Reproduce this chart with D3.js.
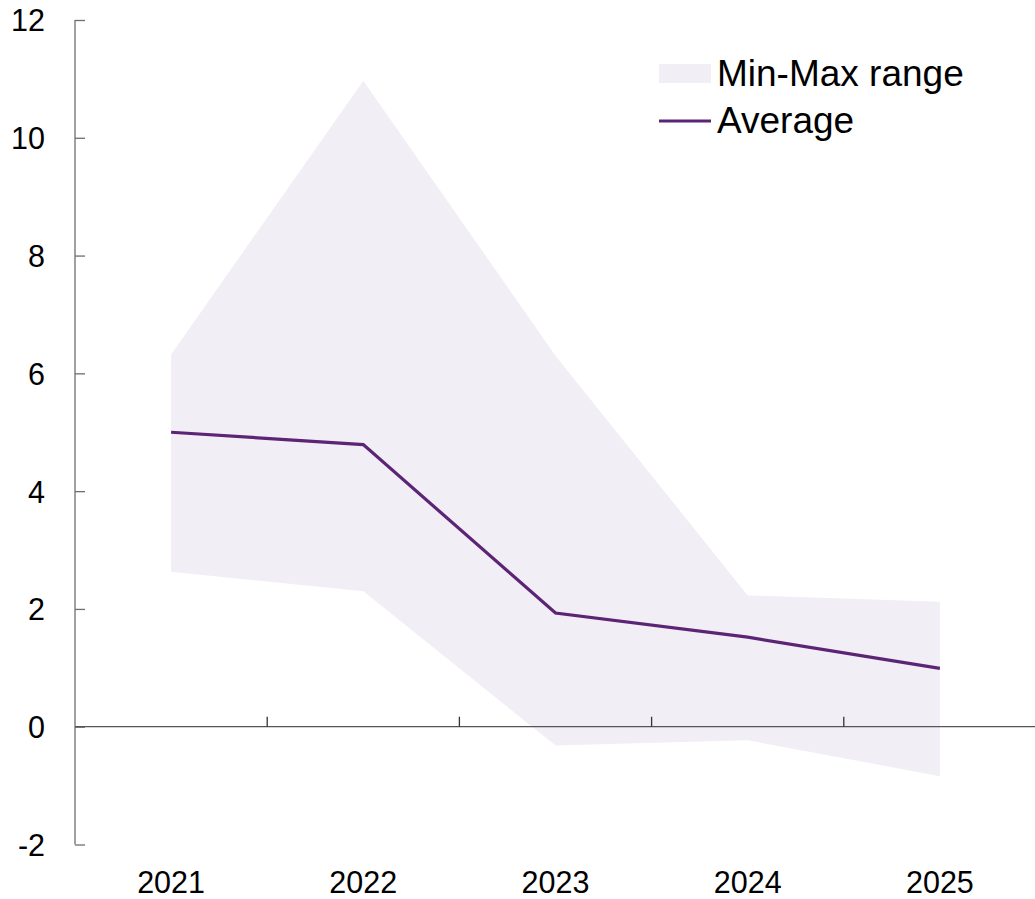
<!DOCTYPE html>
<html>
<head>
<meta charset="utf-8">
<script src="https://cdn.jsdelivr.net/npm/d3@7"></script>
<style>
  body { margin: 0; background: #fff; }
  text { font-family: "Liberation Sans", Arial, sans-serif; fill: #000; }
</style>
</head>
<body>
<div id="chart"></div>
<script>
const years = ["2021", "2022", "2023", "2024", "2025"];
const maxValues = [6.32, 10.97, 6.3, 2.23, 2.12];
const minValues = [2.63, 2.3, -0.32, -0.23, -0.84];
const avgValues = [5.0, 4.79, 1.93, 1.52, 0.99];
const yTicks = [-2, 0, 2, 4, 6, 8, 10, 12];

const width = 1035, height = 899;
const plotLeft = 75, plotRight = 1036, plotTop = 20, plotBottom = 844.5;

const svg = d3.select("#chart").append("svg")
    .attr("width", width)
    .attr("height", height);

const x = d3.scaleBand().domain(years).range([plotLeft, plotRight]);
const y = d3.scaleLinear().domain([-2, 12]).range([plotBottom, plotTop]);
const cx = d => x(d) + x.bandwidth() / 2;

const rows = years.map((yr, i) => ({ yr, lo: minValues[i], hi: maxValues[i], avg: avgValues[i] }));

// min-max band
svg.append("path")
    .datum(rows)
    .attr("fill", "#f2eef5")
    .attr("d", d3.area()
        .x(d => cx(d.yr))
        .y0(d => y(d.lo))
        .y1(d => y(d.hi)));

// y axis
const yAxis = svg.append("g")
    .attr("transform", "translate(" + plotLeft + ",0)")
    .call(d3.axisRight(y).tickValues(yTicks).tickSize(10).tickFormat(d => String(d)));
yAxis.select(".domain").attr("stroke", "#6e6e6e").attr("stroke-width", 1.3)
    .attr("d", "M0," + y(12) + "V" + y(-2));
yAxis.selectAll(".tick line").attr("stroke", "#6e6e6e").attr("stroke-width", 1.3);
yAxis.selectAll(".tick text")
    .attr("x", -30)
    .attr("text-anchor", "end")
    .attr("dy", "0.36em")
    .style("font-size", "30.5px");

// x axis at zero
const xAxis = svg.append("g")
    .attr("transform", "translate(0," + y(0) + ")")
    .call(d3.axisTop(x).tickSize(0).tickFormat(""));
xAxis.select(".domain").attr("stroke", "#555").attr("stroke-width", 1.3)
    .attr("d", "M" + plotLeft + ",0H" + width);
xAxis.selectAll(".tick").remove();
// boundary ticks between categories
svg.append("g")
    .selectAll("line")
    .data(years.slice(1))
    .enter()
    .append("line")
    .attr("x1", d => x(d))
    .attr("x2", d => x(d))
    .attr("y1", y(0))
    .attr("y2", y(0) - 10)
    .attr("stroke", "#333")
    .attr("stroke-width", 1.3);

// category labels at the bottom
svg.append("g")
    .selectAll("text")
    .data(years)
    .enter()
    .append("text")
    .attr("x", d => cx(d))
    .attr("y", 893)
    .attr("text-anchor", "middle")
    .style("font-size", "30.5px")
    .text(d => d);

// average line
svg.append("path")
    .datum(rows)
    .attr("fill", "none")
    .attr("stroke", "#5c2474")
    .attr("stroke-width", 3.2)
    .attr("d", d3.line()
        .x(d => cx(d.yr))
        .y(d => y(d.avg)));

// legend
const legend = svg.append("g");
legend.append("rect")
    .attr("x", 659).attr("y", 64)
    .attr("width", 52).attr("height", 19)
    .attr("fill", "#f2eef5");
legend.append("text")
    .attr("x", 717).attr("y", 86)
    .style("font-size", "37px")
    .text("Min-Max range");
legend.append("line")
    .attr("x1", 659).attr("x2", 711)
    .attr("y1", 121).attr("y2", 121)
    .attr("stroke", "#5c2474")
    .attr("stroke-width", 3.2);
legend.append("text")
    .attr("x", 717).attr("y", 133)
    .style("font-size", "37px")
    .text("Average");
</script>
</body>
</html>
